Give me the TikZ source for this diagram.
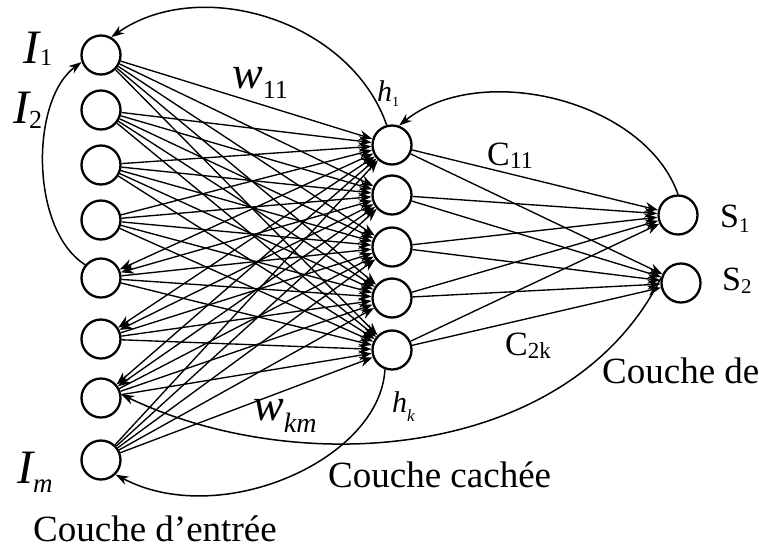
\documentclass[tikz,border=0pt]{standalone}
\usepackage{fontspec}
\setmainfont{Liberation Serif}
\usetikzlibrary{arrows.meta}
\tikzset{
  neuron/.style={circle, draw, line width=2.3pt, minimum size=39pt, inner sep=0pt, fill=white},
  conn/.style={line width=1.35pt, -{Stealth[length=13pt,width=10pt]}},
  bothconn/.style={line width=1.35pt, {Stealth[length=13pt,width=10pt]}-{Stealth[length=13pt,width=10pt]}},
  fb/.style={line width=1.5pt, -{Stealth[length=13pt,width=9pt]}},
  lbl/.style={inner sep=0pt, anchor=base west},
}
\newcommand\fs[1]{\fontsize{#1}{#1}\selectfont}
\begin{document}
\begin{tikzpicture}[x=1pt,y=-1pt]
\useasboundingbox (0,0) rectangle (759,552);
% input layer
\foreach \i/\y in {1/55,2/110,3/165,4/220,5/278,6/339,7/398,8/460}
  \node[neuron] (I\i) at (101,\y) {};
% hidden layer
\foreach \j/\y in {1/145,2/195,3/247,4/298,5/350}
  \node[neuron] (h\j) at (392,\y) {};
% output layer
\node[neuron] (S1) at (678,215) {};
\node[neuron] (S2) at (681,283) {};
% input -> hidden
\foreach \j in {1,...,5}
  \foreach \i in {1,2,3,4,8}
    \draw[conn] (I\i) -- (h\j);
\foreach \j in {3,4,5}
  \foreach \i in {5,6,7}
    \draw[conn] (I\i) -- (h\j);
\foreach \i/\j in {5/1,5/2,6/1,6/2,7/1,7/2}
  \draw[bothconn] (I\i) -- (h\j);
% hidden -> output
\foreach \j in {1,...,5}{
  \draw[conn] (h\j) -- (S1);
  \draw[conn] (h\j) -- (S2);
}
% feedback curves
\draw[fb] (h1.105) .. controls (350,20) and (200,-25) .. (I1.60);
\draw[fb] (I5.140) .. controls (30,230) and (30,100) .. (I1.200);
\draw[fb] (S1.90) .. controls (645,100) and (480,60) .. (h1.70);
\draw[fb] (S2.165) .. controls (570,460) and (300,480) .. (I7.10);
\draw[fb] (h5.250) .. controls (380,460) and (220,530) .. (I8.-45);
% labels
\node[lbl] (lI1) at (23,63) {\fs{48}\itshape I\kern1pt\upshape\fs{24}\raisebox{-2pt}{1}};
\node[lbl] (lI2) at (13,123) {\fs{48}\itshape I\kern0pt\upshape\fs{26}\raisebox{-5pt}{2}};
\node[lbl] (lIm) at (17,483) {\fs{48}\itshape I\kern0pt\fs{27}\raisebox{-9pt}{m}};
\node[lbl] (lw11) at (232,88) {\fs{46}\itshape w\upshape\fs{26}\raisebox{-10pt}{11}};
\node[lbl] (lwkm) at (253,420) {\fs{46}\itshape w\fs{28}\raisebox{-12pt}{km}};
\node[lbl] (lh1) at (377,101) {\fs{30}\itshape h\upshape\fs{14}\raisebox{-5pt}{1}};
\node[lbl] (lhk) at (392,412) {\fs{30}\itshape h\fs{17}\raisebox{-9pt}{k}};
\node[lbl] (lC11) at (487,165) {\fs{34}C\fs{24}\raisebox{-3pt}{11}};
\node[lbl] (lC2k) at (505,355) {\fs{34}C\fs{23}\raisebox{-3pt}{2k}};
\node[lbl] (lS1) at (720,227) {\fs{34}S\fs{21}\raisebox{-5pt}{1}};
\node[lbl] (lS2) at (722,290) {\fs{34}S\fs{21}\raisebox{-3pt}{2}};
\node[lbl] (tout) at (602,383) {\fs{37}Couche de};
\node[lbl] (thid) at (328,487) {\fs{37}Couche cachée};
\node[lbl] (tin) at (33,541) {\fs{37}Couche d’entrée};
\end{tikzpicture}
\end{document}
